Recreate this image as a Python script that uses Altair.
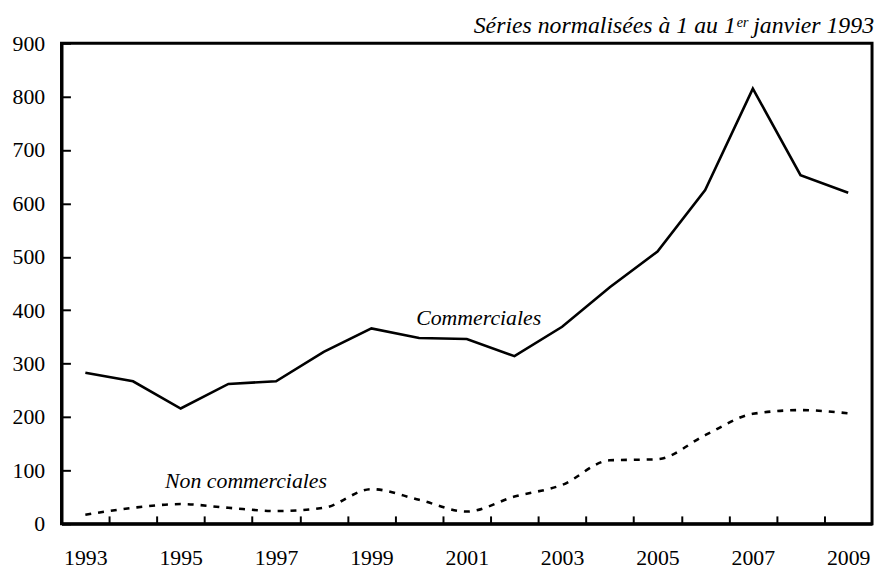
import altair as alt
import pandas as pd

years = list(range(1993, 2010))
commerciales = [283, 267, 216, 262, 267, 322, 366, 348, 346, 314, 369, 443, 510, 625, 815, 653, 620]
non_commerciales = [17, 30, 37, 30, 24, 30, 65, 45, 23, 51, 73, 119, 121, 166, 206, 213, 207]

label_years = [1993, 1995, 1997, 1999, 2001, 2003, 2005, 2007, 2009]
tick_years = [y + 0.5 for y in range(1993, 2009)]
y_values = list(range(0, 1000, 100))

annot_text = ["Commerciales", "Non commerciales"]
annot_x = [2001.25, 1996.37]
annot_y = [373, 67]

title_text = "Séries normalisées à 1 au 1ᵉʳ janvier 1993"

FONT = "Liberation Serif"

df = pd.DataFrame({"year": years, "com": commerciales, "noncom": non_commerciales})
ann = pd.DataFrame({"t": annot_text, "x": annot_x, "y": annot_y})

xscale = alt.Scale(domain=[1992.5, 2009.5], nice=False, zero=False)
yscale = alt.Scale(domain=[0, 900], nice=False)

x_lab = alt.X("year:Q", scale=xscale, title=None,
              axis=alt.Axis(orient="bottom", values=label_years, ticks=False,
                            domain=True, domainColor="black", domainWidth=3, grid=False,
                            labelPadding=24, labelFontSize=22, labelFont=FONT,
                            labelColor="black", format="d", labelFlush=False))
y_lab = alt.Y("com:Q", scale=yscale, title=None,
              axis=alt.Axis(orient="left", values=y_values, ticks=False,
                            domain=True, domainColor="black", domainWidth=3, grid=False,
                            labelPadding=17, labelFontSize=22, labelFont=FONT,
                            labelColor="black", labelFlush=False))

line_com = alt.Chart(df).mark_line(color="black", strokeWidth=2.6).encode(x=x_lab, y=y_lab)

line_non = alt.Chart(df).mark_line(color="black", strokeWidth=2.6, strokeDash=[6, 7],
                                   interpolate="monotone").encode(
    x=alt.X("year:Q", scale=xscale, axis=None),
    y=alt.Y("noncom:Q", scale=yscale, axis=None),
)

# tick-only axes (ticks inside the frame)
tick_layer = alt.Chart(df).mark_point(opacity=0).encode(
    x=alt.X("year:Q", scale=xscale, title=None,
            axis=alt.Axis(orient="bottom", values=tick_years, labels=False, domain=False, grid=False,
                          ticks=True, tickSize=8, tickWidth=2, tickColor="black", offset=-8)),
    y=alt.Y("com:Q", scale=yscale, title=None,
            axis=alt.Axis(orient="left", values=y_values, labels=False, domain=False, grid=False,
                          ticks=True, tickSize=9, tickWidth=2, tickColor="black", offset=-9)),
)

texts = alt.Chart(ann).mark_text(font=FONT, fontSize=22, fontStyle="italic", color="black",
                                 baseline="alphabetic").encode(
    x=alt.X("x:Q", scale=xscale, axis=None),
    y=alt.Y("y:Q", scale=yscale, axis=None),
    text="t:N",
)

chart = alt.layer(line_com, line_non, tick_layer, texts).resolve_axis(
    x="independent", y="independent"
).properties(
    width=818, height=485,
    autosize=alt.AutoSizeParams(type="none"),
    padding={"left": 54, "top": 33, "right": 4, "bottom": 45},
    view=alt.ViewBackground(stroke="black", strokeWidth=3),
    title=alt.TitleParams(title_text, anchor="end", frame="group", font=FONT, fontSize=24,
                          fontStyle="italic", fontWeight="normal", color="black",
                          offset=-6, dx=2),
).configure_view(stroke="black", strokeWidth=3).configure(background="white")

chart.save("out.html", embed_options={"renderer": "svg", "actions": False})
